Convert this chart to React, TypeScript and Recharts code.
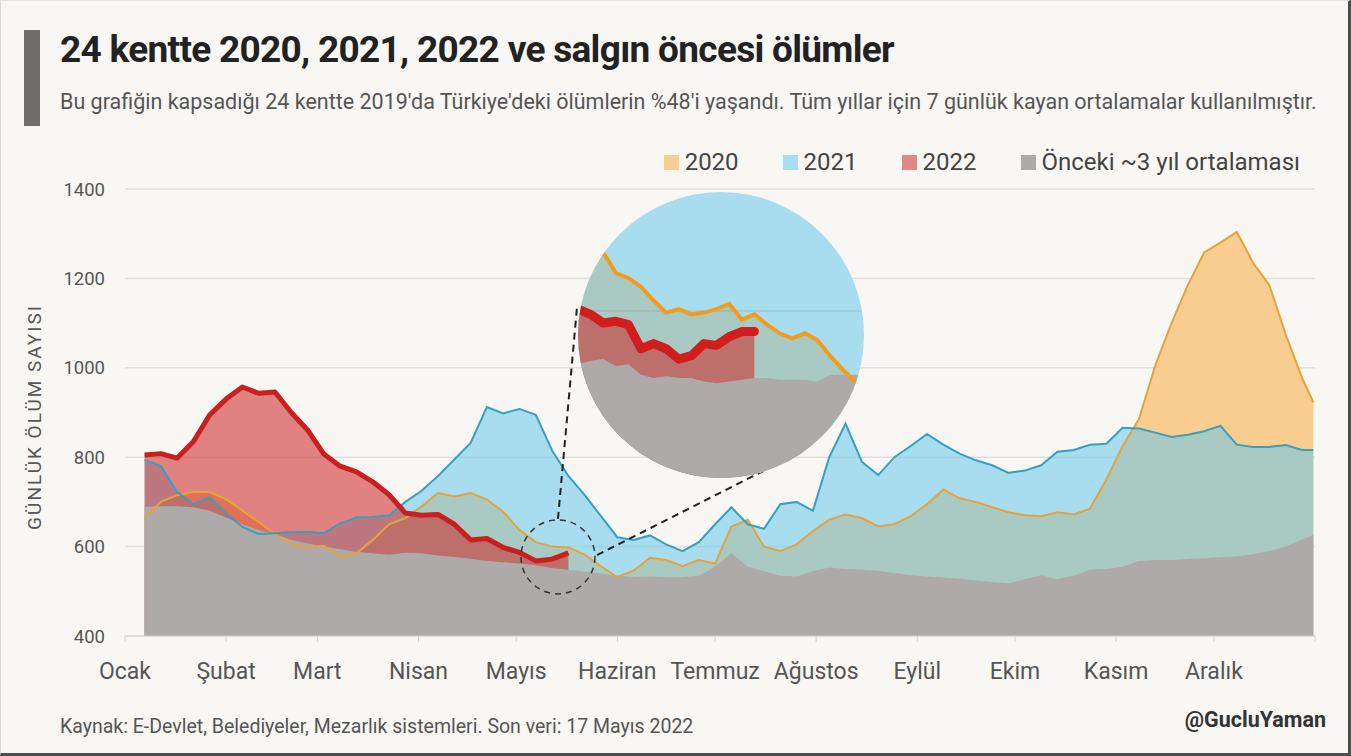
import React from "react";
import {
  Area,
  CartesianGrid,
  ComposedChart,
  Line,
  ReferenceDot,
  ReferenceLine,
  XAxis,
  YAxis,
} from "recharts";

// day of year (7-day moving averages, first week missing)
const days = [
  6, 11, 16, 21, 26, 31, 36, 41, 46, 51, 56, 61, 66, 71, 76, 81, 86, 91, 96, 101,
  106, 111, 116, 121, 126, 131, 136, 141, 146, 151, 156, 161, 166, 171, 176, 181,
  186, 191, 196, 201, 206, 211, 216, 221, 226, 231, 236, 241, 246, 251, 256, 261,
  266, 271, 276, 281, 286, 291, 296, 301, 306, 311, 316, 321, 326, 331, 336, 341,
  346, 351, 356, 361, 364.5,
];

const deaths2020 = [
  664, 700, 715, 722, 722, 706, 680, 655, 628, 605, 598, 602, 578, 585, 615, 650,
  664, 690, 720, 712, 720, 705, 678, 637, 610, 600, 598, 582, 556, 532, 546, 575,
  570, 556, 570, 562, 645, 660, 600, 590, 605, 635, 660, 672, 664, 645, 650, 668,
  695, 728, 708, 700, 688, 677, 670, 668, 677, 672, 685, 750, 825, 885, 1005, 1100,
  1185, 1258, 1280, 1304, 1235, 1185, 1075, 978, 923,
];

const deaths2021 = [
  794, 780, 722, 695, 710, 674, 644, 628, 630, 632, 633, 630, 652, 665, 666, 670,
  700, 725, 758, 795, 832, 912, 898, 908, 895, 815, 758, 715, 668, 621, 615, 625,
  605, 590, 610, 650, 688, 650, 640, 695, 700, 680, 800, 875, 790, 760, 800, 825,
  852, 828, 808, 793, 782, 765, 770, 782, 812, 816, 828, 830, 866, 864, 855, 845,
  850, 858, 870, 828, 823, 823, 827, 816, 816,
];

// 2022 ends at 17 May
const deaths2022 = [
  805, 808, 798, 835, 895, 930, 957, 943, 946, 900, 861, 807, 780, 767, 745, 716,
  675, 670, 672, 650, 615, 618, 598, 587, 568, 572, 586,
];

const deathsPrev = [
  689, 690, 690, 688, 680, 665, 650, 637, 628, 615, 607, 600, 594, 588, 585, 582,
  586, 585, 580, 577, 573, 568, 565, 562, 558, 552, 548, 544, 540, 535, 532, 533,
  532, 532, 535, 555, 585, 555, 545, 535, 533, 545, 553, 550, 548, 546, 541, 536,
  533, 531, 528, 524, 521, 518, 527, 536, 527, 535, 548, 550, 555, 568, 570, 570,
  572, 574, 576, 578, 583, 590, 600, 616, 626,
];

// magnified window (mid-May)
const zoomDays = [
  122, 123, 124, 125, 126, 127, 128, 129, 130, 131, 132, 133, 134, 135, 136, 137,
  138, 139, 140, 141, 142, 143, 144, 145,
];
const zoom2020 = [
  648, 641, 634, 622, 619, 614, 606, 599, 601, 598, 599, 601, 604, 595, 598, 592,
  587, 584, 587, 583, 574, 566, 559, 552,
];
const zoom2021 = [
  900, 890, 885, 890, 890, 880, 860, 840, 825, 815, 800, 785, 772, 765, 758, 755,
  745, 735, 722, 715, 705, 695, 685, 675,
];
const zoom2022 = [601, 598, 593, 594, 592, 578, 581, 578, 572, 574, 581, 580, 585, 588, 588];
const zoomPrev = [
  569, 571, 572, 568, 569, 563, 561, 562, 561, 561, 559, 558, 559, 560, 561, 561,
  560, 560, 560, 559, 563, 563, 563, 563,
];

const monthStarts = [0, 31, 59, 90, 120, 151, 181, 212, 243, 273, 304, 334, 365];
const monthNames = [
  "Ocak", "Şubat", "Mart", "Nisan", "Mayıs", "Haziran", "Temmuz",
  "Ağustos", "Eylül", "Ekim", "Kasım", "Aralık",
];
const yTicks = [400, 600, 800, 1000, 1200, 1400];

const legendItems = [
  { label: "2020", color: "#f9cd8f" },
  { label: "2021", color: "#a8def0" },
  { label: "2022", color: "#e08888" },
  { label: "Önceki ~3 yıl ortalaması", color: "#aeaaa9" },
];

const C = {
  bg: "#f8f7f4",
  orangeFill: "#f9cd8f",
  orangeLine: "#e3a33d",
  blueFill: "rgba(102,201,237,0.55)",
  blueLine: "#3a9fbe",
  redFill: "rgba(205,45,45,0.58)",
  redLine: "#c8201f",
  gray: "#aeaaa9",
  text: "#555",
};

const FONT = "Roboto, 'Noto Sans', sans-serif";

const rows = days.map((day, i) => ({
  day,
  y2020: deaths2020[i],
  y2021: deaths2021[i],
  y2022: i < deaths2022.length ? deaths2022[i] : null,
  prev: deathsPrev[i],
}));

const zoomRows = zoomDays.map((day, i) => ({
  day,
  y2020: zoom2020[i],
  y2021: zoom2021[i],
  y2022: i < zoom2022.length ? zoom2022[i] : null,
  prev: zoomPrev[i],
}));

function Inset() {
  return (
    <div
      style={{
        position: "absolute",
        left: 577,
        top: 191,
        width: 286,
        height: 286,
        borderRadius: "50%",
        overflow: "hidden",
        background: C.bg,
      }}
    >
      <ComposedChart width={286} height={286} data={zoomRows} margin={{ top: 0, right: 0, bottom: 0, left: 0 }}>
        <XAxis type="number" dataKey="day" domain={[122, 144.7]} allowDataOverflow hide />
        <YAxis type="number" domain={[503, 669]} allowDataOverflow hide />
        <Area dataKey="y2020" fill={C.orangeFill} fillOpacity={1} stroke="none" isAnimationActive={false} />
        <Area dataKey="y2021" fill={C.blueFill} fillOpacity={1} stroke="none" isAnimationActive={false} />
        <Area dataKey="y2022" fill={C.redFill} fillOpacity={1} stroke="none" isAnimationActive={false} />
        <Area dataKey="prev" fill={C.gray} fillOpacity={1} stroke="none" isAnimationActive={false} />
        <ReferenceLine y={600} stroke="rgba(110,110,110,0.18)" strokeWidth={1.5} />
        <Line dataKey="y2020" stroke="#f29c1f" strokeWidth={4} dot={false} isAnimationActive={false} />
        <Line dataKey="y2022" stroke="#d21d1d" strokeWidth={9} strokeLinecap="round" strokeLinejoin="round" dot={false} isAnimationActive={false} />
      </ComposedChart>
    </div>
  );
}

export default function App() {
  return (
    <div
      style={{
        position: "absolute",
        left: 0,
        top: 0,
        width: 1351,
        height: 756,
        boxSizing: "border-box",
        background: C.bg,
        fontFamily: FONT,
        borderLeft: "1px solid #d9d9d9",
        borderTop: "1px solid #e4e4e4",
        borderRight: "3px solid #4d4d4d",
        borderBottom: "3px solid #4d4d4d",
        overflow: "hidden",
      }}
    >
      <style>{`body{margin:0}`}</style>
      <div style={{ position: "absolute", left: -1, top: -1 }}>
        <ComposedChart
          width={1351}
          height={756}
          data={rows}
          margin={{ top: 189, right: 36, bottom: 80, left: 65 }}
        >
          <CartesianGrid vertical={false} stroke="#e2e0dc" strokeWidth={1.5} />
          <XAxis
            type="number"
            dataKey="day"
            domain={[0, 365]}
            ticks={monthStarts}
            height={40}
            tickFormatter={(v) => monthNames[monthStarts.indexOf(v)] ?? ""}
            tick={{ fill: C.text, fontSize: 23, fontFamily: FONT }}
            tickSize={6}
            tickMargin={21}
            tickLine={{ stroke: "#cfcfcf" }}
            axisLine={{ stroke: "#d6d4d0" }}
          />
          <YAxis
            type="number"
            domain={[400, 1400]}
            ticks={yTicks}
            width={60}
            tick={{ fill: C.text, fontSize: 18.5, fontFamily: FONT }}
            tickLine={false}
            axisLine={false}
            tickMargin={14}
          />
          <Area dataKey="y2020" fill={C.orangeFill} fillOpacity={1} stroke="none" isAnimationActive={false} />
          <Area dataKey="y2021" fill={C.blueFill} fillOpacity={1} stroke="none" isAnimationActive={false} />
          <Area dataKey="y2022" fill={C.redFill} fillOpacity={1} stroke="none" isAnimationActive={false} />
          <Area dataKey="prev" fill={C.gray} fillOpacity={1} stroke="none" isAnimationActive={false} />
          <Line dataKey="y2020" stroke={C.orangeLine} strokeWidth={2} dot={false} isAnimationActive={false} />
          <Line dataKey="y2021" stroke={C.blueLine} strokeWidth={2} dot={false} isAnimationActive={false} />
          <Line dataKey="y2022" stroke={C.redLine} strokeWidth={5} strokeLinejoin="round" dot={false} isAnimationActive={false} />
          <ReferenceDot x={132.8} y={577} r={37} fill="none" stroke="#333" strokeWidth={1.5} strokeDasharray="6 5" />
          <ReferenceLine
            segment={[{ x: 132.8, y: 662 }, { x: 138.7, y: 1140 }]}
            stroke="#222"
            strokeWidth={2}
            strokeDasharray="7 5"
          />
          <ReferenceLine
            segment={[{ x: 144.8, y: 581 }, { x: 207.1, y: 811 }]}
            stroke="#222"
            strokeWidth={2}
            strokeDasharray="7 5"
          />
        </ComposedChart>
      </div>

      <Inset />

      {/* header */}
      <div style={{ position: "absolute", left: 23, top: 29, width: 16, height: 96, background: "#716c6c" }} />
      <div
        style={{
          position: "absolute",
          left: 59,
          top: 27,
          fontSize: 37,
          lineHeight: "44px",
          fontWeight: 700,
          color: "#222",
          letterSpacing: -0.7,
          whiteSpace: "nowrap",
        }}
      >
        24 kentte 2020, 2021, 2022 ve salgın öncesi ölümler
      </div>
      <div
        style={{
          position: "absolute",
          left: 59,
          top: 87,
          fontSize: 21.5,
          lineHeight: "28px",
          color: C.text,
          whiteSpace: "nowrap",
        }}
      >
        Bu grafiğin kapsadığı 24 kentte 2019'da Türkiye'deki ölümlerin %48'i yaşandı. Tüm yıllar için 7 günlük kayan ortalamalar kullanılmıştır.
      </div>

      {/* legend */}
      <div
        style={{
          position: "absolute",
          right: 48,
          top: 145,
          display: "flex",
          alignItems: "center",
          gap: 44,
          fontSize: 24,
          lineHeight: "32px",
          color: "#444",
          whiteSpace: "nowrap",
        }}
      >
        {legendItems.map((it) => (
          <div key={it.label} style={{ display: "flex", alignItems: "center", gap: 6 }}>
            <span style={{ display: "inline-block", width: 15, height: 15, background: it.color }} />
            <span>{it.label}</span>
          </div>
        ))}
      </div>

      {/* y axis title */}
      <div
        style={{
          position: "absolute",
          left: 33,
          top: 416,
          transform: "translate(-50%, -50%) rotate(-90deg)",
          fontSize: 19,
          color: C.text,
          whiteSpace: "nowrap",
          letterSpacing: 2,
        }}
      >
        GÜNLÜK ÖLÜM SAYISI
      </div>

      {/* footer */}
      <div style={{ position: "absolute", left: 59, top: 714, fontSize: 19.5, color: C.text, whiteSpace: "nowrap" }}>
        Kaynak: E-Devlet, Belediyeler, Mezarlık sistemleri. Son veri: 17 Mayıs 2022
      </div>
      <div
        style={{
          position: "absolute",
          right: 22,
          top: 706,
          fontSize: 21.5,
          fontWeight: 700,
          color: "#333",
          whiteSpace: "nowrap",
        }}
      >
        @GucluYaman
      </div>
    </div>
  );
}
